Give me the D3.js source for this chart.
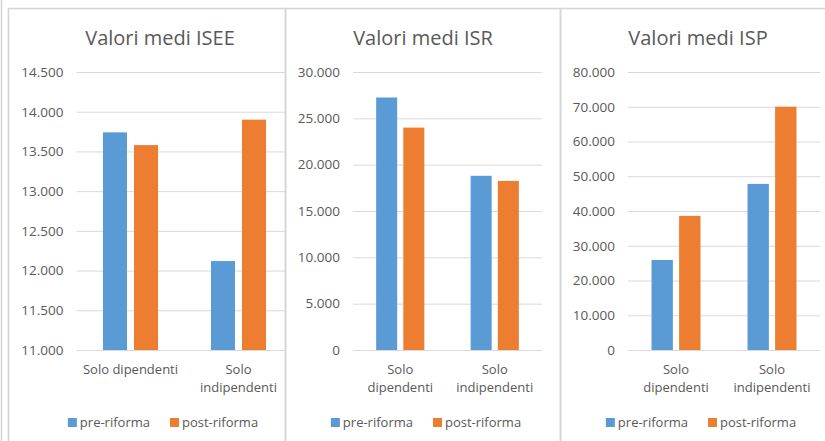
<!DOCTYPE html>
<html>
<head>
<meta charset="utf-8">
<script src="https://cdn.jsdelivr.net/npm/d3@7"></script>
<style>
  body { margin: 0; background: #fff; }
  svg { display: block; font-family: "Open Sans", "Noto Sans", sans-serif; }
</style>
</head>
<body>
<div id="root"></div>
<script>
// data
const categories = ['Solo dipendenti', 'Solo indipendenti'];
const series = ['pre-riforma', 'post-riforma'];
const seriesColors = ['#5B9BD5', '#ED7D31'];

const iseePre = [13740, 12120];
const iseePost = [13580, 13900];
const isrPre = [27250, 18800];
const isrPost = [24000, 18250];
const ispPre = [25900, 47800];
const ispPost = [38600, 70000];

const iseeTicks = [11000, 11500, 12000, 12500, 13000, 13500, 14000, 14500];
const isrTicks = [0, 5000, 10000, 15000, 20000, 25000, 30000];
const ispTicks = [0, 10000, 20000, 30000, 40000, 50000, 60000, 70000, 80000];

const width = 825, height = 441;
const textColor = '#595959';
const gridColor = '#d9d9d9';
const frameColor = '#d4d4d4';

const it = d3.formatLocale({ decimal: ',', thousands: '.', grouping: [3], currency: ['€', ''] });
const fmt = it.format(',d');

const svg = d3.select('#root').append('svg')
  .attr('width', width)
  .attr('height', height)
  .attr('viewBox', [0, 0, width, height]);

// panel frames
svg.append('line')
  .attr('x1', 1.5).attr('x2', 1.5).attr('y1', 0).attr('y2', height)
  .attr('stroke', frameColor).attr('stroke-width', 1.5);

const panels = [
  { title: 'Valori medi ISEE', pre: iseePre, post: iseePost, ticks: iseeTicks,
    left: 8.5, right: 285.5, cx: 160, plot: [76.5, 292.5], gridEnd: 285 },
  { title: 'Valori medi ISR', pre: isrPre, post: isrPost, ticks: isrTicks,
    left: 285.5, right: 560.5, cx: 423, plot: [353, 542], gridEnd: 542 },
  { title: 'Valori medi ISP', pre: ispPre, post: ispPost, ticks: ispTicks,
    left: 560.5, right: 830, cx: 698, plot: [628, 820], gridEnd: 820 }
];

const plotTop = 72, plotBottom = 350;

function wrap(text, maxWidth) {
  text.each(function () {
    const t = d3.select(this);
    const words = t.text().split(/\s+/);
    const x = t.attr('x');
    let line = [];
    let lineNo = 0;
    let tspan = t.text(null).append('tspan').attr('x', x).attr('dy', 0);
    words.forEach((w) => {
      line.push(w);
      tspan.text(line.join(' '));
      if (tspan.node().getComputedTextLength() > maxWidth && line.length > 1) {
        line.pop();
        tspan.text(line.join(' '));
        line = [w];
        lineNo++;
        tspan = t.append('tspan').attr('x', x).attr('dy', '1.35em').text(w);
      }
    });
  });
}

panels.forEach((p) => {
  const g = svg.append('g');

  g.append('rect')
    .attr('x', p.left).attr('y', 8.5)
    .attr('width', p.right - p.left).attr('height', height + 10)
    .attr('fill', 'none')
    .attr('stroke', frameColor)
    .attr('stroke-width', 1.5);

  g.append('text')
    .attr('x', p.cx).attr('y', 45)
    .attr('text-anchor', 'middle')
    .attr('fill', textColor)
    .attr('font-size', 20)
    .text(p.title);

  const y = d3.scaleLinear()
    .domain([p.ticks[0], p.ticks[p.ticks.length - 1]])
    .range([plotBottom, plotTop]);

  const x0 = d3.scaleBand()
    .domain(categories)
    .range(p.plot)
    .paddingInner(0.49)
    .paddingOuter(0.245);

  const x1 = d3.scaleBand()
    .domain(series)
    .range([0, x0.bandwidth()])
    .paddingInner(0.226);

  // gridlines and labels
  const yAxis = d3.axisLeft(y)
    .tickValues(p.ticks)
    .tickSize(-(p.gridEnd - p.plot[0]))
    .tickPadding(13)
    .tickFormat(fmt);

  g.append('g')
    .attr('transform', `translate(${p.plot[0]},0)`)
    .call(yAxis)
    .call((ax) => ax.select('.domain').remove())
    .call((ax) => ax.selectAll('line').attr('stroke', gridColor))
    .call((ax) => ax.selectAll('text')
      .attr('fill', textColor)
      .attr('font-size', 13.5)
      .attr('font-family', '"Open Sans", sans-serif'));

  // bars
  const groups = g.selectAll('g.cat')
    .data(categories.map((c, i) => ({ cat: c, values: [p.pre[i], p.post[i]] })))
    .join('g')
    .attr('class', 'cat')
    .attr('transform', (d) => `translate(${x0(d.cat)},0)`);

  groups.selectAll('rect')
    .data((d) => d.values.map((v, j) => ({ key: series[j], value: v, color: seriesColors[j] })))
    .join('rect')
    .attr('x', (d) => x1(d.key))
    .attr('width', x1.bandwidth())
    .attr('y', (d) => y(d.value))
    .attr('height', (d) => y(y.domain()[0]) - y(d.value))
    .attr('fill', (d) => d.color);

  // category labels
  g.selectAll('text.cat')
    .data(categories)
    .join('text')
    .attr('class', 'cat')
    .attr('x', (d) => x0(d) + x0.bandwidth() / 2)
    .attr('y', 374)
    .attr('text-anchor', 'middle')
    .attr('fill', textColor)
    .attr('font-size', 13)
    .text((d) => d)
    .call(wrap, x0.step() * 0.95);

  // legend
  const legend = g.append('g');
  let lx = 0;
  series.forEach((s, j) => {
    const item = legend.append('g').attr('transform', `translate(${lx},0)`);
    item.append('rect')
      .attr('x', 0).attr('y', 418)
      .attr('width', 9).attr('height', 9)
      .attr('fill', seriesColors[j]);
    const t = item.append('text')
      .attr('x', 12).attr('y', 427)
      .attr('fill', textColor)
      .attr('font-size', 13)
      .text(s);
    lx += 12 + t.node().getComputedTextLength() + 20;
  });
  const legendWidth = lx - 20;
  legend.attr('transform', `translate(${p.cx + 3 - legendWidth / 2},0)`);
});
</script>
</body>
</html>
